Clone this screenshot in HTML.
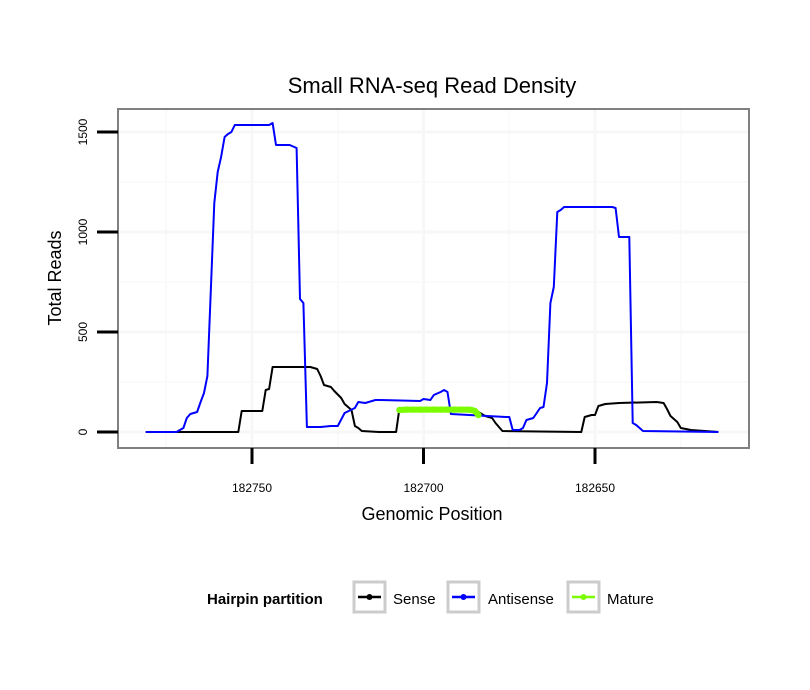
<!DOCTYPE html>
<html><head><meta charset="utf-8"><style>
body{margin:0;background:#fff;}
svg{display:block;font-family:"Liberation Sans",sans-serif;}
</style></head><body>
<svg id="chart" width="810" height="690" viewBox="0 0 810 690">
<rect width="810" height="690" fill="#fff"/>
<text x="432" y="93" text-anchor="middle" font-size="22">Small RNA-seq Read Density</text>
<g id="grid"></g>
<g id="series"></g>
<rect x="118" y="109" width="631" height="339" fill="none" stroke="#808080" stroke-width="2"/>
<g id="axes"></g>
<text x="432" y="520" text-anchor="middle" font-size="18">Genomic Position</text>
<text transform="translate(61,278) rotate(-90)" text-anchor="middle" font-size="18">Total Reads</text>
<g>
<text x="207" y="604" font-size="15" font-weight="bold">Hairpin partition</text>
<g>
<rect x="354" y="582" width="31" height="30" fill="#fff" stroke="#ccc" stroke-width="3"/>
<line x1="358" y1="597" x2="381" y2="597" stroke="#000" stroke-width="2.5"/><circle cx="369.5" cy="597" r="3" fill="#000"/>
<text x="393" y="604" font-size="15">Sense</text></g>
<g>
<rect x="448" y="582" width="31" height="30" fill="#fff" stroke="#ccc" stroke-width="3"/>
<line x1="452" y1="597" x2="475" y2="597" stroke="#0000ff" stroke-width="2.5"/><circle cx="463.5" cy="597" r="3" fill="#0000ff"/>
<text x="488" y="604" font-size="15">Antisense</text></g>
<g>
<rect x="568" y="582" width="31" height="30" fill="#fff" stroke="#ccc" stroke-width="3"/>
<line x1="572" y1="597" x2="595" y2="597" stroke="#7cfc00" stroke-width="2.5"/><circle cx="583.5" cy="597" r="3" fill="#7cfc00"/>
<text x="607" y="604" font-size="15">Mature</text></g>
</g>
</svg>
<script>
const senseX=[182781,182754,182753,182747,182746,182745,182744,182743,182733,182731,182730,182729,182727,182726,182724,182723,182721,182720,182719,182718,182713,182708,182707,182684,182682,182680,182679,182677,182654,182653,182651,182650,182649,182647,182643,182632,182630,182629,182628,182626,182625,182622,182614];
const senseY=[0,0,105,105,210,215,325,325,325,315,280,235,225,205,170,140,110,30,20,5,0,0,120,100,80,70,45,5,0,75,85,85,130,140,145,150,145,115,80,50,20,10,0];
const antiX=[182781,182772,182770,182769,182768,182766,182765,182764,182763,182761,182760,182759,182758,182757,182756,182755,182753,182745,182744,182743,182739,182737,182736,182735,182734,182730,182727,182725,182723,182720,182719,182717,182714,182713,182701,182700,182698,182697,182695,182694,182693,182692,182676,182675,182674,182672,182671,182670,182668,182667,182666,182665,182664,182663,182662,182661,182660,182659,182645,182644,182643,182640,182639,182638,182636,182614];
const antiY=[0,0,20,70,90,100,150,195,280,1145,1300,1375,1475,1490,1500,1535,1535,1535,1545,1435,1435,1420,665,645,25,25,30,30,95,120,150,145,160,160,155,165,160,185,200,210,200,90,75,75,10,10,20,60,70,95,120,125,245,645,725,1100,1110,1125,1125,1120,975,975,45,35,5,0];
const matureX=[182707,182705,182703,182701,182699,182697,182695,182693,182691,182689,182687,182686,182685,182684];
const matureY=[110,112,112,112,112,112,112,112,112,112,112,110,105,85];
const xTicks=[182750,182700,182650];
const yTicks=[0,500,1000,1500];
const xMinor=[182775,182725,182675,182625];
const yMinor=[250,750,1250];

const NS="http://www.w3.org/2000/svg";
function sx(p){return 252+(182750-p)*3.43;}
function sy(v){return 432-v*0.2;}
function mk(tag,attrs,parent){const e=document.createElementNS(NS,tag);for(const k in attrs)e.setAttribute(k,attrs[k]);parent.appendChild(e);return e;}
const grid=document.getElementById('grid'),ser=document.getElementById('series'),axes=document.getElementById('axes');
xMinor.forEach(p=>{const x=sx(p);if(x>118&&x<749){const l=mk('line',{x1:x,x2:x,y1:109,y2:448,stroke:'#fafafa','stroke-width':2},grid);

}});
yMinor.forEach(v=>{const y=sy(v);const l=mk('line',{x1:118,x2:749,y1:y,y2:y,stroke:'#fafafa','stroke-width':2},grid);

});
xTicks.forEach(p=>{const x=sx(p);const l=mk('line',{x1:x,x2:x,y1:109,y2:448,stroke:'#f7f7f7','stroke-width':3},grid);


const t=mk('line',{x1:x,x2:x,y1:448,y2:464,stroke:'#000','stroke-width':3},axes);


const tx=mk('text',{x:x,y:492,'text-anchor':'middle','font-size':12},axes);tx.textContent=p;

});
yTicks.forEach(v=>{const y=sy(v);const l=mk('line',{x1:118,x2:749,y1:y,y2:y,stroke:'#f7f7f7','stroke-width':3},grid);


const t=mk('line',{x1:97,x2:118,y1:y,y2:y,stroke:'#000','stroke-width':3},axes);


const tx=mk('text',{transform:`translate(87,${y}) rotate(-90)`,'text-anchor':'middle','font-size':12},axes);tx.textContent=v;

});
function pts(X,Y){return X.map((p,i)=>sx(p).toFixed(1)+','+sy(Y[i]).toFixed(1)).join(' ');}
const s=mk('polyline',{points:pts(senseX,senseY),fill:'none',stroke:'#000','stroke-width':2,'stroke-linejoin':'round'},ser);


const a=mk('polyline',{points:pts(antiX,antiY),fill:'none',stroke:'#0000ff','stroke-width':2,'stroke-linejoin':'round'},ser);


const m=mk('polyline',{points:pts(matureX,matureY),fill:'none',stroke:'#7cfc00','stroke-width':6,'stroke-linejoin':'round','stroke-linecap':'round'},ser);


matureX.forEach((p,i)=>{const c=mk('circle',{cx:sx(p),cy:sy(matureY[i]),r:3.2,fill:'#7cfc00'},ser);

});
</script>
</body></html>
